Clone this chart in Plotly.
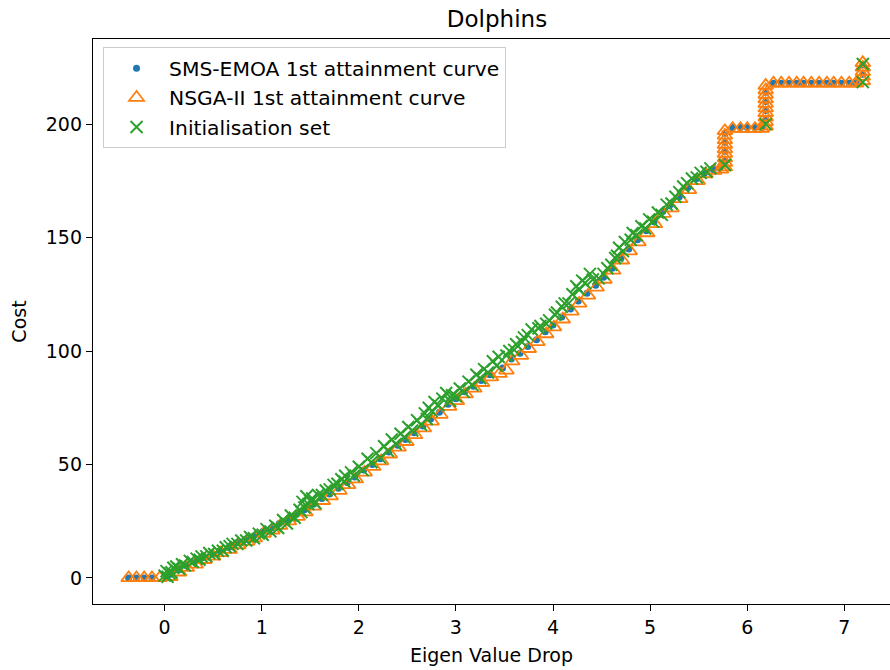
import plotly.graph_objects as go

# ---------------- data ----------------
sms_x = [-0.37, -0.29, -0.21, -0.13,
         0.05, 0.14, 0.22, 0.31, 0.40, 0.49, 0.57, 0.66, 0.75, 0.84, 0.92, 1.01,
         1.10, 1.18, 1.27, 1.36, 1.44, 1.53, 1.62, 1.70, 1.79, 1.88, 1.96, 2.05,
         2.14, 2.22, 2.31, 2.40, 2.48, 2.57, 2.66, 2.74, 2.83, 2.92, 3.00, 3.09,
         3.18, 3.26, 3.35, 3.48, 3.57, 3.66, 3.74, 3.83, 3.92, 4.00, 4.09, 4.18,
         4.26, 4.35, 4.44, 4.52, 4.61, 4.70, 4.78, 4.87, 4.96, 5.04, 5.13, 5.20,
         5.30, 5.39, 5.48, 5.56, 5.65, 5.72,
         5.77, 5.77, 5.77, 5.77,
         5.85, 5.93, 6.00, 6.08, 6.15,
         6.19, 6.19, 6.19, 6.19,
         6.27, 6.35, 6.43, 6.51, 6.58, 6.66, 6.74, 6.82, 6.89, 6.97, 7.05, 7.12,
         7.19, 7.19]
sms_y = [0, 0, 0, 0,
         1.5, 3.5, 5.5, 7, 9, 10.5, 12, 13.5, 15.5, 17, 18.5, 20.5,
         22, 24, 26, 28, 30, 32.5, 35, 37, 39.5, 42, 44.5, 47.5,
         50, 52.5, 55.5, 58.5, 61, 64, 67, 70, 73, 76.5, 79, 82,
         84.5, 87, 89.5, 92.5, 96.5, 99, 102, 105, 108.5, 111.5, 115, 118.5,
         122, 125.5, 129, 132.5, 136.5, 141, 145, 149, 153, 157, 161.5, 164,
         168, 172, 176, 178.5, 180, 180.5,
         184, 188, 192, 196,
         198.5, 198.5, 198.5, 198.5, 198.5,
         202, 206, 210, 214,
         218, 218, 218, 218, 218, 218, 218, 218, 218, 218, 218, 218,
         222, 226]

nsga_x = [-0.37, -0.29, -0.21, -0.13, -0.05,
          0.06, 0.15, 0.23, 0.32, 0.41, 0.50, 0.58, 0.67, 0.76, 0.85, 0.93, 1.02,
          1.11, 1.19, 1.28, 1.37, 1.45, 1.54, 1.63, 1.71, 1.80, 1.89, 1.97, 2.06,
          2.15, 2.23, 2.32, 2.41, 2.49, 2.58, 2.67, 2.75, 2.84, 2.93, 3.01, 3.10,
          3.19, 3.27, 3.36, 3.45, 3.52, 3.58, 3.67, 3.75, 3.84, 3.93, 4.01, 4.10, 4.19,
          4.27, 4.36, 4.45, 4.53, 4.62, 4.71, 4.79, 4.88, 4.97, 5.05, 5.14, 5.22,
          5.31, 5.40, 5.49, 5.57, 5.66, 5.73,
          5.77, 5.77, 5.77, 5.77, 5.77, 5.77, 5.77, 5.77, 5.77,
          5.85, 5.93, 6.00, 6.08, 6.15,
          6.19, 6.19, 6.19, 6.19, 6.19, 6.19, 6.19, 6.19, 6.19, 6.19,
          6.27, 6.35, 6.43, 6.51, 6.58, 6.66, 6.74, 6.82, 6.89, 6.97, 7.05, 7.12,
          7.19, 7.19, 7.19, 7.19, 7.19]
nsga_y = [0, 0, 0, 0, 0,
          0.5, 2.5, 4.5, 6, 8, 9.5, 11, 12.5, 14.5, 16, 17.5, 19.5,
          21, 23, 25, 27, 29, 31.5, 34, 36, 38.5, 41, 43.5, 46.5,
          49, 51.5, 54.5, 57.5, 60, 63, 66, 69, 72, 75.5, 78, 81,
          83.5, 86, 88.5, 90, 91.5, 95.5, 98, 101, 104, 107.5, 110.5, 114, 117.5,
          121, 124.5, 128, 131.5, 135.5, 140, 144, 148, 152, 156, 160.5, 163,
          167, 171, 175, 178, 179.5, 180,
          181, 183, 185, 187, 189, 191, 193, 195, 197,
          198, 198, 198, 198, 198,
          199, 201, 203, 205, 207, 209, 211, 213, 215, 217,
          218, 218, 218, 218, 218, 218, 218, 218, 218, 218, 218, 218,
          219, 221, 223, 225, 227]

init_x = [0.00, 0.02, 0.05, 0.09, 0.12, 0.18, 0.26, 0.33, 0.38, 0.46, 0.55, 0.63,
          0.70, 0.79, 0.88, 0.97, 1.05, 1.14, 1.22, 1.30, 1.39, 1.42, 1.46, 1.48,
          1.52, 1.58, 1.66, 1.74, 1.82, 1.86, 1.92, 2.00, 2.09, 2.18, 2.26, 2.34,
          2.43, 2.51, 2.60, 2.68, 2.72, 2.78, 2.86, 2.90, 2.96, 3.04, 3.13, 3.21,
          3.29, 3.38, 3.44, 3.55, 3.62, 3.70, 3.78, 3.87, 3.96, 4.04, 4.12, 4.20,
          4.24, 4.30, 4.38, 4.47, 4.56, 4.64, 4.68, 4.74, 4.82, 4.91, 4.99, 5.08,
          5.17, 5.26, 5.34, 5.43, 5.52, 5.62, 5.77, 6.19, 7.19, 7.19,
          0.03, 0.07, 0.15, 0.21, 0.29, 0.36, 0.43, 0.51, 0.60, 0.67, 0.75, 0.84,
          0.92, 1.01, 1.09, 1.17, 1.26, 1.34, 1.41, 1.44, 1.50, 1.55, 1.62, 1.70,
          1.78, 1.85, 1.95, 2.04, 2.13, 2.22, 2.30, 2.38, 2.47, 2.55, 2.64, 2.70,
          2.75, 2.82, 2.94, 3.00, 3.08, 3.17, 3.25, 3.33, 3.42, 3.52, 3.60, 3.68,
          3.74, 3.85, 3.93, 4.02, 4.09, 4.16, 4.27, 4.33, 4.41, 4.52, 4.60, 4.66,
          4.72, 4.80, 4.86, 4.95, 5.03, 5.12, 5.22, 5.30, 5.38, 5.48, 5.58]
init_y = [1, 3, 2, 4.5, 5, 6, 7.5, 8.5, 9.5, 11, 12, 13.5,
          15, 16.5, 18, 19.5, 21.5, 23, 25.5, 27.5, 30, 33.5, 36, 32.5,
          35, 36.5, 38.5, 41, 43.5, 45, 46.5, 49, 52.5, 55, 58, 61,
          63.5, 66.5, 69.5, 72.5, 75, 77.5, 79, 81.5, 80.5, 83.5, 86.5, 89.5,
          92, 95.5, 97.5, 100, 103, 106, 109.5, 111, 113.5, 117, 121, 125,
          128.5, 131, 134, 132, 136.5, 141, 145.5, 148, 152, 155, 158, 161,
          164.5, 168, 172.5, 176, 178.5, 180.5, 182, 200, 218.5, 226.5,
          0.5, 2.5, 4, 5.5, 7, 8, 9.5, 10.5, 12, 14, 15, 16.5,
          17.5, 19, 20.5, 22, 24, 26.5, 29, 31, 34, 33, 36.5, 39,
          41.5, 42.5, 45, 47.5, 51, 53, 56, 59, 62, 65, 67.5, 70,
          73.5, 76, 78, 80, 82, 85, 88, 90.5, 93.5, 98, 100.5, 104,
          107, 110, 112, 116, 119.5, 121, 127, 130, 131.5, 134, 138, 142,
          144, 149, 151, 154, 157, 160, 165, 170, 174, 176.5, 179]

# ---------------- figure ----------------
BLUE = "#1f77b4"
ORANGE = "#ff7f0e"
GREEN = "#2ca02c"

fig = go.Figure()
fig.add_trace(go.Scatter(
    x=sms_x, y=sms_y, mode="markers", name="SMS-EMOA 1st attainment curve",
    marker=dict(symbol="circle", size=7, color=BLUE, line=dict(width=0))))
fig.add_trace(go.Scatter(
    x=nsga_x, y=nsga_y, mode="markers", name="NSGA-II 1st attainment curve",
    marker=dict(symbol="triangle-up-open", size=13, color=ORANGE,
                line=dict(width=1.8, color=ORANGE))))
fig.add_trace(go.Scatter(
    x=init_x, y=init_y, mode="markers", name="Initialisation set",
    marker=dict(symbol="x-thin-open", size=12, color=GREEN,
                line=dict(width=2, color=GREEN))))

tick_font = dict(family="DejaVu Sans", size=19, color="black")

fig.update_layout(
    width=890, height=670,
    margin=dict(l=93, r=0, t=39, b=66),
    paper_bgcolor="white", plot_bgcolor="white",
    font=dict(family="DejaVu Sans", color="black"),
    title=dict(text="Dolphins", xref="container", x=0.5584, xanchor="center",
               y=0.972, yanchor="middle",
               font=dict(size=23, family="DejaVu Sans", color="black")),
    xaxis=dict(range=[-0.737, 7.47], tickvals=[0, 1, 2, 3, 4, 5, 6, 7],
               showgrid=False, zeroline=False, showline=True, linecolor="black",
               linewidth=1.3, mirror=True, ticks="outside", ticklen=6,
               tickwidth=1.2, tickcolor="black", tickfont=tick_font,
               title=dict(text="Eigen Value Drop", standoff=11,
                          font=dict(size=19, family="DejaVu Sans", color="black"))),
    yaxis=dict(range=[-11.5, 237.5], tickvals=[0, 50, 100, 150, 200],
               showgrid=False, zeroline=False, showline=True, linecolor="black",
               linewidth=1.3, mirror=False, ticks="outside", ticklen=6,
               tickwidth=1.2, tickcolor="black", tickfont=tick_font,
               title=dict(text="Cost", standoff=14,
                          font=dict(size=19, family="DejaVu Sans", color="black"))),
    legend=dict(x=0.0126, y=0.985, xanchor="left", yanchor="top",
                bgcolor="rgba(255,255,255,0.8)", bordercolor="#cccccc",
                borderwidth=1, font=dict(size=20.3, family="DejaVu Sans"),
                tracegroupgap=0, itemwidth=55),
    showlegend=True,
)

fig.write_html("out.html")
